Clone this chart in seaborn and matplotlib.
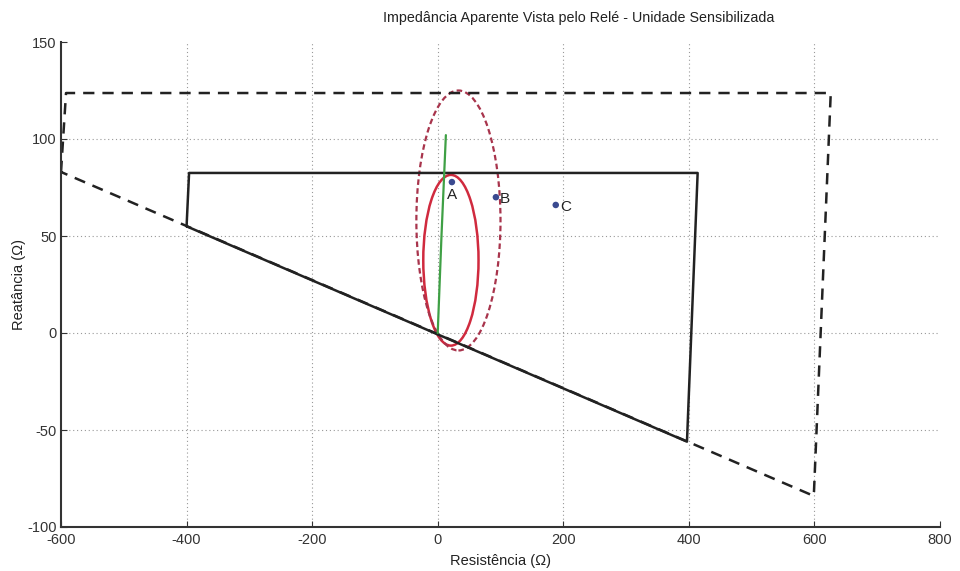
import numpy as np
import pandas as pd
import matplotlib
matplotlib.use("Agg")
import matplotlib.pyplot as plt
from matplotlib.patches import Circle
import seaborn as sns

# Característica quadrilateral (zona 1, sólida) e zona 2 (tracejada)
zona1_r = [-400, -396, 414, 397, -400]
zona1_x = [55, 82.5, 82.5, -56, 55]
zona2_r = [-600, -592, 626, 599, -600]
zona2_x = [83, 123.7, 123.7, -84, 83]

# Trajetória da impedância (verde)
traj_r = [0, 6, 13]
traj_x = [0, 50, 102]

# Círculos mho (centro R, centro X, raio)
mho1 = (21, 37.5, 44)
mho2 = (33, 58, 67)

# Pontos
pontos = ["A", "B", "C"]
pontos_r = [22.6, 92.7, 188]
pontos_x = [77.8, 70, 66]

sns.set_style("white")
plt.rcParams["font.family"] = ["Liberation Sans", "DejaVu Sans"]
plt.rcParams["axes.unicode_minus"] = False

fig = plt.figure(figsize=(9.6, 5.71), dpi=100)
ax = fig.add_axes([61 / 960, 1 - 527 / 571, (940 - 61) / 960, (527 - 42) / 571])

# grade pontilhada apenas nas marcas internas
for v in [-400, -200, 0, 200, 400, 600]:
    ax.axvline(v, linestyle=(0, (1, 2.5)), color="#999999", linewidth=0.8, zorder=0)
for v in [-50, 0, 50, 100]:
    ax.axhline(v, linestyle=(0, (1, 2.5)), color="#999999", linewidth=0.8, zorder=0)

sns.lineplot(x=zona2_r, y=zona2_x, sort=False, ax=ax, color="#222222",
             linewidth=1.8, linestyle=(0, (4.5, 3.2)), estimator=None)
sns.lineplot(x=zona1_r, y=zona1_x, sort=False, ax=ax, color="#222222",
             linewidth=1.8, estimator=None)
sns.lineplot(x=traj_r, y=traj_x, sort=False, ax=ax, color="#3fa045",
             linewidth=1.6, estimator=None)

ax.add_patch(Circle((mho1[0], mho1[1]), mho1[2], fill=False,
                    edgecolor="#d02a3e", linewidth=1.8))
ax.add_patch(Circle((mho2[0], mho2[1]), mho2[2], fill=False,
                    edgecolor="#a8344c", linewidth=1.6, linestyle=(0, (2.5, 1.5))))

df = pd.DataFrame({"R": pontos_r, "X": pontos_x, "nome": pontos})
sns.scatterplot(data=df, x="R", y="X", ax=ax, color="#3a4a90", s=22,
                edgecolor="none", zorder=5)
offsets = {"A": (0, -12, "center"), "B": (3, -4, "left"), "C": (3, -4.5, "left")}
for _, row in df.iterrows():
    dx, dy, ha = offsets[row["nome"]]
    ax.annotate(row["nome"], (row["R"], row["X"]), xytext=(dx, dy),
                textcoords="offset points", ha=ha, fontsize=11, color="#222222")

ax.set_xlim(-600, 800)
ax.set_ylim(-100, 150)
ax.set_xticks([-600, -400, -200, 0, 200, 400, 600, 800])
ax.set_yticks([-100, -50, 0, 50, 100, 150])

for s in ["top", "right"]:
    ax.spines[s].set_visible(False)
for s in ["left", "bottom"]:
    ax.spines[s].set_color("#333333")
    ax.spines[s].set_linewidth(1.5)
ax.tick_params(direction="in", length=4, width=0.8, colors="#333333",
               labelsize=10.5, pad=3, left=True, bottom=True)
ax.tick_params(axis="x", pad=4)

ax.set_xlabel("Resistência (Ω)", fontsize=10.5, color="#222222", labelpad=5)
ax.set_ylabel("Reatância (Ω)", fontsize=10.5, color="#222222", labelpad=1)
fig.text(579 / 960, 1 - 18 / 571,
         "Impedância Aparente Vista pelo Relé - Unidade Sensibilizada",
         ha="center", va="center", fontsize=10.3, color="#222222")

fig.savefig("out.png", dpi=100)
